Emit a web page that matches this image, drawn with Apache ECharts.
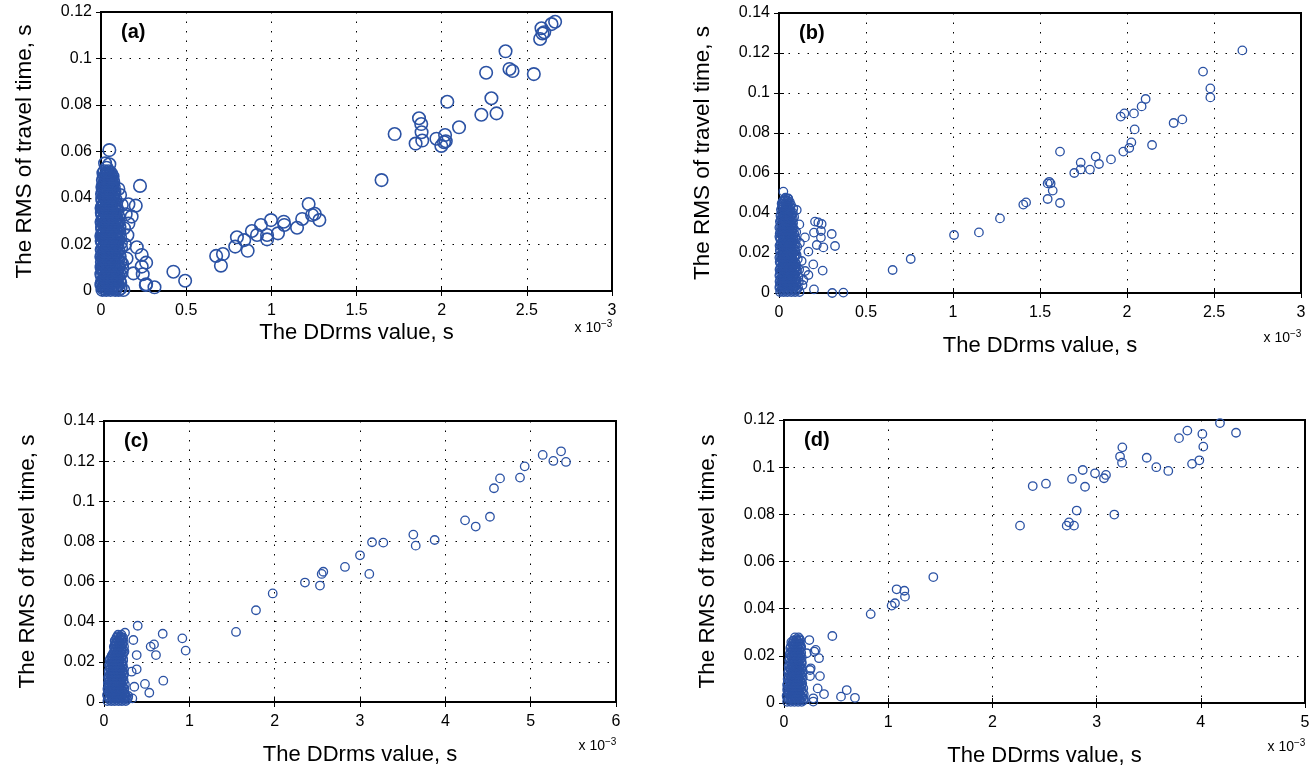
<!DOCTYPE html>
<html>
<head>
<meta charset="utf-8">
<title>DDrms vs RMS of travel time</title>
<script src="https://cdn.jsdelivr.net/npm/echarts@6/dist/echarts.min.js"></script>
<style>
  html, body { margin: 0; padding: 0; background: #fff; }
  #charts { width: 1314px; height: 770px; }
</style>
</head>
<body>
<div id="charts"></div>
<script>
// x = DDrms value (x 10^-3 s), y = RMS of travel time (s)
// dense groups are kept as rows: [y, x1, x2, ...]

// (a)
const aClusterRows = [
  [0.0005, 0.008, 0.031, 0.056, 0.083, 0.104],
  [0.0012, 0.013, 0.038, 0.062, 0.088, 0.115],
  [0.0020, 0.017, 0.044, 0.069, 0.095],
  [0.0027, 0.002, 0.022, 0.049, 0.074, 0.099],
  [0.0035, 0.004, 0.027, 0.052, 0.078, 0.113],
  [0.0042, 0.009, 0.033, 0.058, 0.085, 0.108],
  [0.0050, 0.014, 0.039, 0.063, 0.091],
  [0.0057, 0.019, 0.044, 0.070, 0.096],
  [0.0065, 0.006, 0.024, 0.048, 0.074, 0.102],
  [0.0072, 0.002, 0.030, 0.055, 0.082, 0.111],
  [0.0080, 0.018, 0.041, 0.067, 0.089, 0.121],
  [0.0087, 0.012, 0.036, 0.061, 0.094],
  [0.0095, 0.009, 0.033, 0.058, 0.081],
  [0.0102, 0.003, 0.025, 0.050, 0.076, 0.104],
  [0.0110, 0.021, 0.046, 0.071, 0.098],
  [0.0117, 0.014, 0.039, 0.062, 0.087, 0.124],
  [0.0125, 0.005, 0.029, 0.054, 0.079, 0.115],
  [0.0132, 0.020, 0.045, 0.070, 0.099],
  [0.0140, 0.016, 0.038, 0.064, 0.093],
  [0.0147, 0.002, 0.028, 0.056, 0.084, 0.110],
  [0.0155, 0.007, 0.026, 0.051, 0.076, 0.106],
  [0.0162, 0.013, 0.038, 0.063, 0.094],
  [0.0170, 0.019, 0.043, 0.068, 0.087],
  [0.0177, 0.004, 0.031, 0.055, 0.078, 0.102],
  [0.0185, 0.011, 0.034, 0.059, 0.083, 0.118],
  [0.0192, 0.017, 0.042, 0.066, 0.091],
  [0.0200, 0.023, 0.047, 0.072, 0.097],
  [0.0207, 0.009, 0.035, 0.060, 0.086, 0.117],
  [0.0215, 0.004, 0.028, 0.055, 0.079],
  [0.0222, 0.020, 0.046, 0.069, 0.100],
  [0.0230, 0.015, 0.039, 0.064, 0.091, 0.112],
  [0.0237, 0.002, 0.026, 0.050, 0.075],
  [0.0245, 0.008, 0.031, 0.057, 0.082],
  [0.0252, 0.014, 0.040, 0.063, 0.092, 0.108],
  [0.0260, 0.021, 0.045, 0.069, 0.099],
  [0.0267, 0.007, 0.033, 0.058, 0.083],
  [0.0275, 0.006, 0.027, 0.052, 0.077, 0.109],
  [0.0282, 0.019, 0.044, 0.070, 0.097],
  [0.0290, 0.017, 0.041, 0.066, 0.088],
  [0.0297, 0.003, 0.028, 0.053, 0.076, 0.104],
  [0.0305, 0.010, 0.034, 0.058, 0.083],
  [0.0312, 0.014, 0.040, 0.064, 0.090],
  [0.0320, 0.022, 0.047, 0.071, 0.101],
  [0.0327, 0.008, 0.033, 0.059, 0.084],
  [0.0335, 0.005, 0.028, 0.053, 0.078],
  [0.0342, 0.019, 0.043, 0.069, 0.096],
  [0.0350, 0.016, 0.039, 0.063, 0.092],
  [0.0357, 0.003, 0.027, 0.051, 0.075],
  [0.0365, 0.009, 0.032, 0.057, 0.081],
  [0.0372, 0.014, 0.039, 0.064, 0.088],
  [0.0380, 0.021, 0.046, 0.069],
  [0.0387, 0.010, 0.034, 0.058, 0.078],
  [0.0395, 0.007, 0.029, 0.054, 0.084],
  [0.0402, 0.022, 0.047, 0.072],
  [0.0410, 0.017, 0.041, 0.065],
  [0.0417, 0.006, 0.028, 0.053, 0.074],
  [0.0425, 0.011, 0.034, 0.058, 0.079],
  [0.0432, 0.017, 0.040, 0.063],
  [0.0440, 0.023, 0.047, 0.068],
  [0.0447, 0.008, 0.031, 0.055, 0.075],
  [0.0455, 0.014, 0.037, 0.061],
  [0.0462, 0.020, 0.043, 0.066],
  [0.0470, 0.026, 0.049, 0.072],
  [0.0477, 0.011, 0.034, 0.057],
  [0.0485, 0.018, 0.041, 0.063],
  [0.0492, 0.024, 0.046, 0.068],
  [0.0500, 0.029, 0.052],
  [0.0507, 0.014, 0.037, 0.058],
  [0.0515, 0.021, 0.044],
  [0.0530, 0.033]
]
const aNear = [
  [0.229, 0.0452], [0.049, 0.0606], [0.024, 0.0549], [0.049, 0.0545], [0.161, 0.0373],
  [0.204, 0.0367], [0.180, 0.0320], [0.161, 0.0290], [0.155, 0.0240], [0.210, 0.0188],
  [0.239, 0.0155], [0.265, 0.0122], [0.239, 0.0105], [0.190, 0.0076], [0.245, 0.0072],
  [0.265, 0.0029], [0.131, 0.0004], [0.112, 0.0413], [0.122, 0.0370], [0.102, 0.0439],
  [0.140, 0.0200], [0.150, 0.0140], [0.125, 0.0100], [0.135, 0.0270], [0.145, 0.0330]
]
const aFar = [
  [0.263, 0.0026], [0.314, 0.0016], [0.425, 0.0083], [0.494, 0.0044],
  [0.676, 0.0151], [0.704, 0.0109], [0.716, 0.0159], [0.788, 0.0191], [0.798, 0.0231],
  [0.841, 0.0219], [0.861, 0.0173], [0.886, 0.0258], [0.916, 0.0241], [0.939, 0.0284],
  [0.975, 0.0222], [0.975, 0.0241], [0.998, 0.0305], [1.039, 0.0248], [1.073, 0.0298],
  [1.076, 0.0284], [1.151, 0.0272], [1.181, 0.0310], [1.219, 0.0374], [1.239, 0.0327],
  [1.255, 0.0332], [1.282, 0.0305],
  [1.647, 0.0477], [1.724, 0.0675], [1.847, 0.0634], [1.867, 0.0743], [1.880, 0.0718],
  [1.882, 0.0683], [1.886, 0.0647], [1.969, 0.0655], [1.998, 0.0624], [2.014, 0.0640],
  [2.020, 0.0671], [2.024, 0.0644], [2.033, 0.0814], [2.102, 0.0704], [2.233, 0.0758],
  [2.292, 0.0829], [2.322, 0.0764], [2.261, 0.0939], [2.375, 0.1031], [2.398, 0.0955],
  [2.416, 0.0946], [2.541, 0.0933], [2.578, 0.1084], [2.586, 0.1130], [2.592, 0.1108],
  [2.602, 0.1113], [2.645, 0.1148], [2.666, 0.1158]
]

// (b)
const bClusterRows = [
  [0.0005, 0.006, 0.027, 0.048, 0.071, 0.093, 0.118],
  [0.0012, 0.011, 0.032, 0.053, 0.076, 0.098],
  [0.0020, 0.015, 0.037, 0.059, 0.082, 0.104],
  [0.0027, 0.002, 0.021, 0.043, 0.065, 0.087, 0.110],
  [0.0035, 0.004, 0.024, 0.046, 0.068, 0.089],
  [0.0042, 0.010, 0.031, 0.052, 0.074, 0.096],
  [0.0050, 0.013, 0.034, 0.057, 0.078, 0.101],
  [0.0057, 0.003, 0.022, 0.043, 0.065, 0.088, 0.114],
  [0.0065, 0.007, 0.028, 0.049, 0.071, 0.094],
  [0.0072, 0.012, 0.034, 0.056, 0.077, 0.100],
  [0.0080, 0.017, 0.039, 0.061, 0.084, 0.112],
  [0.0087, 0.002, 0.023, 0.045, 0.067, 0.090],
  [0.0095, 0.005, 0.026, 0.047, 0.069, 0.091],
  [0.0102, 0.010, 0.031, 0.053, 0.075, 0.097],
  [0.0110, 0.014, 0.036, 0.058, 0.079, 0.103],
  [0.0117, 0.003, 0.024, 0.046, 0.068, 0.089, 0.116],
  [0.0125, 0.008, 0.029, 0.051, 0.073, 0.095],
  [0.0132, 0.013, 0.035, 0.057, 0.080, 0.101],
  [0.0140, 0.018, 0.041, 0.062, 0.086],
  [0.0147, 0.008, 0.030, 0.052, 0.074, 0.097],
  [0.0155, 0.004, 0.025, 0.047, 0.068, 0.092],
  [0.0162, 0.019, 0.041, 0.062, 0.085],
  [0.0170, 0.013, 0.035, 0.056, 0.077, 0.108],
  [0.0177, 0.002, 0.023, 0.045, 0.066, 0.089],
  [0.0185, 0.007, 0.029, 0.050, 0.072, 0.097],
  [0.0192, 0.012, 0.034, 0.056, 0.078, 0.101],
  [0.0200, 0.017, 0.039, 0.061, 0.083],
  [0.0207, 0.006, 0.028, 0.050, 0.072, 0.094],
  [0.0215, 0.005, 0.026, 0.048, 0.070, 0.093],
  [0.0222, 0.018, 0.040, 0.062, 0.086],
  [0.0230, 0.014, 0.036, 0.058, 0.081, 0.105],
  [0.0237, 0.003, 0.024, 0.046, 0.067, 0.090],
  [0.0245, 0.009, 0.030, 0.052, 0.074, 0.096],
  [0.0252, 0.013, 0.035, 0.057, 0.079],
  [0.0260, 0.019, 0.041, 0.063, 0.085],
  [0.0267, 0.008, 0.030, 0.052, 0.074, 0.098],
  [0.0275, 0.006, 0.027, 0.049, 0.070, 0.094],
  [0.0282, 0.019, 0.041, 0.063, 0.084],
  [0.0290, 0.015, 0.037, 0.058, 0.080],
  [0.0297, 0.004, 0.025, 0.047, 0.068, 0.088],
  [0.0305, 0.008, 0.030, 0.051, 0.073, 0.099],
  [0.0312, 0.013, 0.035, 0.056, 0.078],
  [0.0320, 0.018, 0.040, 0.062, 0.086],
  [0.0327, 0.002, 0.023, 0.045, 0.066, 0.080],
  [0.0335, 0.007, 0.028, 0.049, 0.071],
  [0.0342, 0.012, 0.034, 0.055, 0.076],
  [0.0350, 0.016, 0.038, 0.059, 0.081],
  [0.0357, 0.005, 0.026, 0.047, 0.068],
  [0.0365, 0.010, 0.031, 0.052, 0.074],
  [0.0372, 0.016, 0.037, 0.058, 0.079],
  [0.0380, 0.020, 0.042, 0.064, 0.087],
  [0.0387, 0.008, 0.029, 0.050, 0.071],
  [0.0395, 0.012, 0.033, 0.055, 0.076],
  [0.0402, 0.018, 0.039, 0.060, 0.080],
  [0.0410, 0.023, 0.045, 0.066],
  [0.0417, 0.011, 0.032, 0.053],
  [0.0425, 0.016, 0.037, 0.058],
  [0.0432, 0.022, 0.043, 0.064],
  [0.0440, 0.026, 0.048, 0.069],
  [0.0447, 0.015, 0.036, 0.056],
  [0.0455, 0.020, 0.041, 0.062],
  [0.0462, 0.026, 0.047],
  [0.0470, 0.031, 0.052],
  [0.0477, 0.037]
]
const bNear = [
  [0.207, 0.0357], [0.226, 0.0353], [0.245, 0.0345], [0.241, 0.0310], [0.303, 0.0295],
  [0.241, 0.0277], [0.322, 0.0235], [0.255, 0.0228], [0.217, 0.0240], [0.201, 0.0302],
  [0.149, 0.0278], [0.169, 0.0207], [0.197, 0.0143], [0.251, 0.0112], [0.169, 0.0090],
  [0.140, 0.0065], [0.201, 0.0018], [0.102, 0.0415], [0.082, 0.0423], [0.025, 0.0507],
  [0.053, 0.0473], [0.117, 0.0343], [0.002, 0.0282], [0.130, 0.0160], [0.120, 0.0250],
  [0.150, 0.0110], [0.135, 0.0040]
]
const bFar = [
  [0.306, 0.0000], [0.370, 0.0002], [0.653, 0.0115], [0.757, 0.0170], [1.006, 0.0290],
  [1.149, 0.0303], [1.270, 0.0373], [1.404, 0.0442], [1.420, 0.0453], [1.544, 0.0470],
  [1.615, 0.0450], [1.544, 0.0548], [1.561, 0.0548], [1.553, 0.0556], [1.573, 0.0512],
  [1.615, 0.0707], [1.697, 0.0600], [1.734, 0.0618], [1.734, 0.0652], [1.787, 0.0617],
  [1.820, 0.0682], [1.839, 0.0645], [1.908, 0.0668], [1.979, 0.0707], [2.013, 0.0725],
  [2.025, 0.0753], [2.044, 0.0818], [1.964, 0.0882], [1.985, 0.0898], [2.040, 0.0898],
  [2.084, 0.0933], [2.107, 0.0970], [2.144, 0.0740], [2.268, 0.0850], [2.318, 0.0868],
  [2.437, 0.1107], [2.479, 0.1023], [2.479, 0.0978], [2.663, 0.1213]
]

// (c)
const cClusterRows = [
  [0.0005, 0.04, 0.085, 0.125, 0.17, 0.21, 0.255],
  [0.0012, 0.06, 0.105, 0.15, 0.19, 0.235, 0.27],
  [0.0020, 0.06, 0.105, 0.145, 0.19, 0.235, 0.28],
  [0.0027, 0.045, 0.09, 0.13, 0.175, 0.215, 0.26],
  [0.0035, 0.035, 0.08, 0.12, 0.165, 0.205, 0.25],
  [0.0042, 0.065, 0.11, 0.15, 0.195, 0.24],
  [0.0050, 0.055, 0.10, 0.14, 0.185, 0.225],
  [0.0057, 0.045, 0.085, 0.13, 0.17, 0.215],
  [0.0065, 0.04, 0.075, 0.12, 0.16, 0.205, 0.24],
  [0.0072, 0.06, 0.10, 0.14, 0.185, 0.225],
  [0.0080, 0.06, 0.095, 0.14, 0.18, 0.22],
  [0.0087, 0.05, 0.085, 0.125, 0.16, 0.20, 0.245],
  [0.0095, 0.045, 0.08, 0.125, 0.165, 0.205],
  [0.0102, 0.065, 0.10, 0.145, 0.185, 0.225],
  [0.0110, 0.065, 0.105, 0.145, 0.19, 0.23],
  [0.0117, 0.05, 0.085, 0.125, 0.165, 0.21],
  [0.0125, 0.05, 0.09, 0.13, 0.17, 0.21],
  [0.0132, 0.07, 0.11, 0.15, 0.19, 0.23],
  [0.0140, 0.07, 0.11, 0.15, 0.195, 0.235],
  [0.0147, 0.055, 0.09, 0.13, 0.175, 0.215],
  [0.0155, 0.055, 0.095, 0.135, 0.175, 0.215],
  [0.0162, 0.075, 0.115, 0.155, 0.195, 0.235],
  [0.0170, 0.075, 0.115, 0.155, 0.20],
  [0.0177, 0.065, 0.10, 0.14, 0.18, 0.22],
  [0.0185, 0.06, 0.10, 0.14, 0.18, 0.22],
  [0.0192, 0.085, 0.125, 0.165, 0.205],
  [0.0200, 0.08, 0.12, 0.16, 0.205],
  [0.0207, 0.065, 0.10, 0.14, 0.18, 0.225],
  [0.0215, 0.07, 0.105, 0.145, 0.185, 0.225],
  [0.0222, 0.085, 0.125, 0.165, 0.205],
  [0.0230, 0.09, 0.13, 0.17, 0.21],
  [0.0237, 0.10, 0.14, 0.18, 0.22],
  [0.0245, 0.11, 0.15, 0.19, 0.23],
  [0.0252, 0.125, 0.165, 0.205, 0.24],
  [0.0260, 0.125, 0.165, 0.205],
  [0.0267, 0.14, 0.18, 0.22],
  [0.0275, 0.115, 0.155, 0.195, 0.235],
  [0.0282, 0.125, 0.165, 0.20],
  [0.0290, 0.135, 0.175, 0.215],
  [0.0297, 0.145, 0.19, 0.23],
  [0.0305, 0.125, 0.165, 0.205],
  [0.0312, 0.14, 0.18, 0.215],
  [0.0320, 0.145, 0.19, 0.225],
  [0.0327, 0.155, 0.195],
  [0.0335, 0.165, 0.205]
]
const cFar = [
  [0.395, 0.0380], [0.246, 0.0345], [0.344, 0.0309], [0.383, 0.0234], [0.383, 0.0163],
  [0.324, 0.0151], [0.355, 0.0076], [0.332, 0.0018], [0.285, 0.0030], [0.234, 0.0018],
  [0.246, 0.0026], [0.480, 0.0090], [0.531, 0.0046], [0.547, 0.0276], [0.586, 0.0287],
  [0.609, 0.0234], [0.688, 0.0340], [0.695, 0.0106], [0.918, 0.0317], [0.957, 0.0256],
  [1.547, 0.0349], [1.781, 0.0457], [1.977, 0.0541], [2.355, 0.0595], [2.531, 0.0580],
  [2.551, 0.0638], [2.570, 0.0649], [2.824, 0.0673], [3.000, 0.0731], [3.109, 0.0638],
  [3.141, 0.0796], [3.273, 0.0794], [3.625, 0.0834], [3.653, 0.0779], [3.875, 0.0807],
  [4.231, 0.0905], [4.356, 0.0874], [4.523, 0.0923], [4.570, 0.1065], [4.641, 0.1114],
  [4.875, 0.1118], [4.930, 0.1174], [5.141, 0.1231], [5.266, 0.1201], [5.356, 0.1249],
  [5.414, 0.1196]
]

// (d)
const dClusterRows = [
  [0.0005, 0.03, 0.065, 0.10, 0.135, 0.17],
  [0.0011, 0.045, 0.08, 0.115, 0.155, 0.19],
  [0.0018, 0.045, 0.08, 0.115, 0.15, 0.19],
  [0.0024, 0.03, 0.065, 0.10, 0.14, 0.175],
  [0.0031, 0.025, 0.06, 0.095, 0.13, 0.165],
  [0.0037, 0.05, 0.085, 0.12, 0.155, 0.19],
  [0.0044, 0.04, 0.075, 0.11, 0.145, 0.18],
  [0.0050, 0.035, 0.07, 0.105, 0.14],
  [0.0057, 0.03, 0.065, 0.10, 0.135, 0.17],
  [0.0063, 0.05, 0.085, 0.12, 0.155, 0.185],
  [0.0070, 0.045, 0.08, 0.115, 0.15],
  [0.0076, 0.03, 0.065, 0.10, 0.135, 0.17],
  [0.0083, 0.035, 0.07, 0.105, 0.14, 0.175],
  [0.0089, 0.055, 0.09, 0.125, 0.16],
  [0.0096, 0.05, 0.085, 0.12, 0.155],
  [0.0102, 0.035, 0.07, 0.105, 0.14, 0.17],
  [0.0109, 0.04, 0.075, 0.11, 0.145, 0.18],
  [0.0115, 0.06, 0.095, 0.13, 0.165],
  [0.0122, 0.055, 0.09, 0.125, 0.16],
  [0.0128, 0.04, 0.075, 0.11, 0.145, 0.175],
  [0.0135, 0.045, 0.08, 0.115, 0.15],
  [0.0141, 0.065, 0.10, 0.135, 0.165],
  [0.0148, 0.06, 0.095, 0.13, 0.165],
  [0.0154, 0.045, 0.08, 0.115, 0.15],
  [0.0161, 0.05, 0.085, 0.12, 0.155],
  [0.0167, 0.07, 0.105, 0.14, 0.17],
  [0.0174, 0.065, 0.10, 0.135, 0.17],
  [0.0180, 0.05, 0.085, 0.12, 0.15],
  [0.0187, 0.055, 0.09, 0.125, 0.16],
  [0.0193, 0.075, 0.11, 0.145, 0.17],
  [0.0200, 0.07, 0.105, 0.14],
  [0.0206, 0.055, 0.09, 0.125, 0.155],
  [0.0213, 0.06, 0.095, 0.13, 0.165],
  [0.0219, 0.08, 0.115, 0.15],
  [0.0226, 0.075, 0.11, 0.145],
  [0.0232, 0.06, 0.095, 0.13, 0.16],
  [0.0239, 0.065, 0.10, 0.135, 0.165],
  [0.0245, 0.09, 0.125, 0.155],
  [0.0252, 0.08, 0.115, 0.15],
  [0.0258, 0.07, 0.105, 0.14],
  [0.0265, 0.09, 0.125, 0.155],
  [0.0271, 0.12, 0.15],
  [0.0278, 0.105, 0.14]
]
const dFar = [
  [0.243, 0.0267], [0.304, 0.0225], [0.291, 0.0218], [0.336, 0.0190], [0.218, 0.0211],
  [0.250, 0.0140], [0.256, 0.0147], [0.345, 0.0114], [0.250, 0.0114], [0.323, 0.0062],
  [0.384, 0.0038], [0.281, 0.0020], [0.281, 0.0006], [0.464, 0.0284], [0.547, 0.0027],
  [0.602, 0.0055], [0.681, 0.0022], [0.832, 0.0377], [1.033, 0.0413], [1.065, 0.0423],
  [1.081, 0.0482], [1.155, 0.0476], [1.161, 0.0451], [1.433, 0.0534], [2.265, 0.0752],
  [2.387, 0.0920], [2.514, 0.0930], [2.713, 0.0752], [2.735, 0.0766], [2.783, 0.0752],
  [2.809, 0.0816], [2.764, 0.0950], [2.867, 0.0988], [2.889, 0.0917], [2.985, 0.0974],
  [3.071, 0.0953], [3.090, 0.0967], [3.170, 0.0799], [3.225, 0.1045], [3.244, 0.1019],
  [3.247, 0.1084], [3.481, 0.1040], [3.573, 0.1000], [3.688, 0.0984], [3.791, 0.1123],
  [3.871, 0.1155], [3.916, 0.1014], [3.986, 0.1029], [4.015, 0.1141], [4.024, 0.1087],
  [4.184, 0.1187], [4.338, 0.1146]
]

const panelNames = ['(a)', '(b)', '(c)', '(d)']
const xMax = [3, 3, 6, 5]
const xStep = [0.5, 0.5, 1, 1]
const yMax = [0.12, 0.14, 0.14, 0.12]
const xTitle = 'The DDrms value, s'
const yTitle = 'The RMS of travel time, s'

const FONT = '"Liberation Sans", Arial, Helvetica, sans-serif'
const BLUE = '#2b52a4'

// 每个子图的位置
const grids = [
  { left: 101, top: 12, width: 511, height: 279 },
  { left: 779, top: 13, width: 522, height: 280 },
  { left: 104, top: 421, width: 512, height: 281 },
  { left: 784, top: 420, width: 521, height: 283 }
]
// x title / "x 10^-3" offsets below each plot
const xNameGap = [31, 42, 42, 42]
const expOffset = [37, 45, 44, 44]

// rows -> [x, y] points
function rowsToPoints (rows) {
  const pts = []
  rows.forEach(r => {
    for (let k = 1; k < r.length; k++) pts.push([r[k], r[0]])
  })
  return pts
}

function initChart () {
  const chart = echarts.init(document.getElementById('charts'))
  const xAxis = []
  const yAxis = []
  const graphic = []
  grids.forEach((g, i) => {
    const common = {
      gridIndex: i,
      type: 'value',
      min: 0,
      axisLine: { show: false },
      axisTick: { show: true, inside: true, length: 5, lineStyle: { color: '#000', width: 1 } }
    }
    xAxis.push(Object.assign({}, common, {
      max: xMax[i],
      interval: xStep[i],
      name: xTitle,
      nameLocation: 'middle',
      nameGap: xNameGap[i],
      nameTextStyle: { fontFamily: FONT, fontSize: 22, color: '#000' },
      axisLabel: { fontFamily: FONT, fontSize: 16, color: '#000', margin: 12 },
      splitLine: { show: true, lineStyle: { color: '#000', width: 1, type: [1.5, 8] } }
    }))
    yAxis.push(Object.assign({}, common, {
      max: yMax[i],
      interval: 0.02,
      name: yTitle,
      nameLocation: 'middle',
      nameGap: 65,
      nameRotate: 90,
      nameTextStyle: { fontFamily: FONT, fontSize: 22.5, color: '#000' },
      axisLabel: {
        fontFamily: FONT, fontSize: 16, color: '#000', margin: 9,
        formatter: v => String(+v.toFixed(2))
      },
      splitLine: { show: true, lineStyle: { color: '#000', width: 1, type: [1.5, 8] } }
    }))
    // 上边和右边的刻度
    xAxis.push(Object.assign({}, common, {
      position: 'top', max: xMax[i], interval: xStep[i],
      axisLabel: { show: false }, splitLine: { show: false }
    }))
    yAxis.push(Object.assign({}, common, {
      position: 'right', max: yMax[i], interval: 0.02,
      axisLabel: { show: false }, splitLine: { show: false }
    }))

    const right = g.left + g.width
    const bottom = g.top + g.height
    graphic.push({
      type: 'text', left: g.left + 20, top: g.top + 10,
      style: { text: panelNames[i], font: 'bold 20px ' + FONT, fill: '#000' }
    })
    graphic.push({
      type: 'text', x: right - 11, y: bottom + expOffset[i],
      style: { text: 'x 10', font: '14px ' + FONT, fill: '#000', align: 'right', verticalAlign: 'middle' }
    })
    graphic.push({
      type: 'text', x: right - 11, y: bottom + expOffset[i] - 4,
      style: { text: '\u22123', font: '10px ' + FONT, fill: '#000', align: 'left', verticalAlign: 'middle' }
    })
  })

  const allData = [
    rowsToPoints(aClusterRows).concat(aNear, aFar),
    rowsToPoints(bClusterRows).concat(bNear, bFar),
    rowsToPoints(cClusterRows).concat(cFar),
    rowsToPoints(dClusterRows).concat(dFar)
  ]
  const series = allData.map((d, i) => ({
    type: 'scatter',
    xAxisIndex: i * 2,
    yAxisIndex: i * 2,
    data: d,
    symbol: 'circle',
    symbolSize: i === 0 ? 12.5 : 8.5,
    itemStyle: { color: 'transparent', borderColor: BLUE, borderWidth: i === 0 ? 1.6 : 1.3, opacity: 1 },
    emphasis: { disabled: true },
    large: false,
    progressive: 0,
    clip: false
  }))

  const option = {
    backgroundColor: '#fff',
    animation: false,
    grid: grids.map(g => Object.assign({
      show: true, borderColor: '#000', borderWidth: 2, backgroundColor: 'transparent',
      containLabel: false, outerBoundsMode: 'none'
    }, g)),
    xAxis: xAxis,
    yAxis: yAxis,
    graphic: graphic,
    series: series
  }
  chart.setOption(option)
}

initChart()
</script>
</body>
</html>
